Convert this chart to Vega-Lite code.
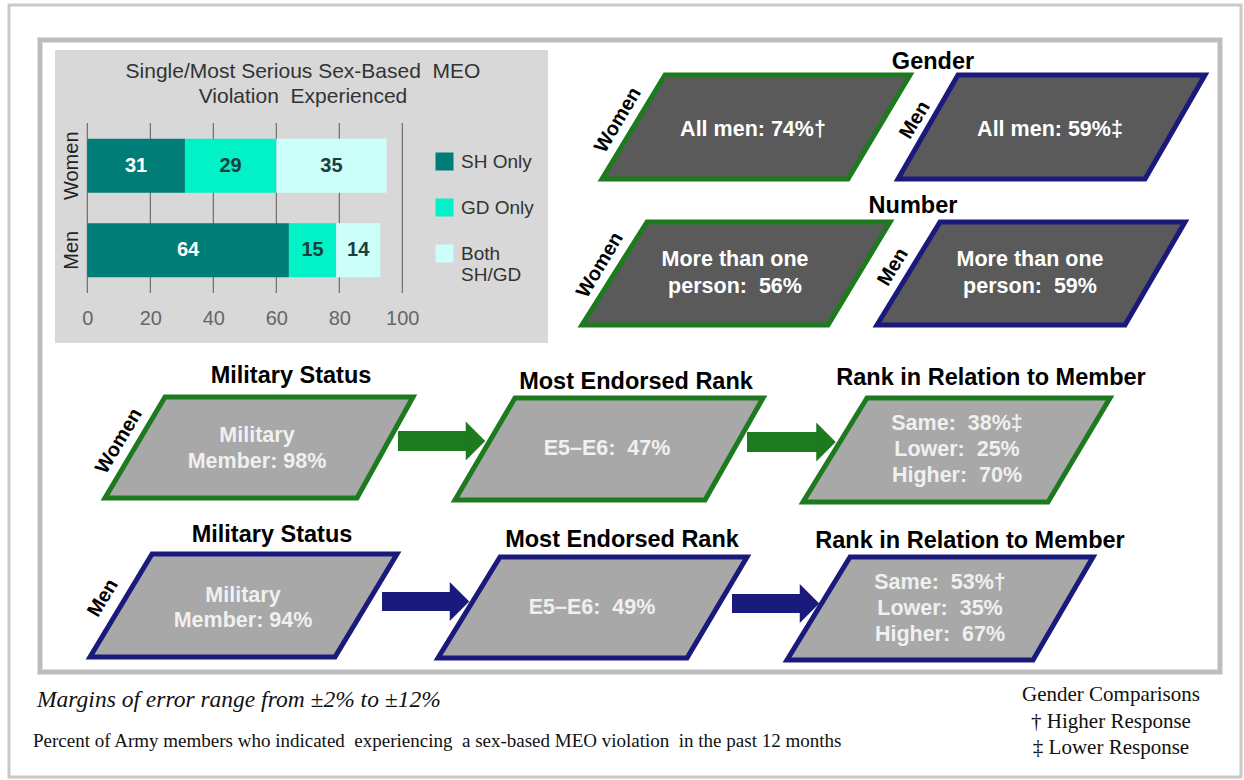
{
  "$schema": "https://vega.github.io/schema/vega-lite/v6.json",
  "width": 1244,
  "height": 780,
  "padding": 0,
  "autosize": {"type": "none"},
  "background": "white",
  "config": {"view": {"stroke": null}, "font": "Liberation Sans"},
  "layer": [
    {
      "encoding": {
        "x": {"field": "x", "type": "quantitative", "scale": {"domain": [0, 1244], "nice": false, "zero": false}, "axis": null},
        "y": {"field": "y", "type": "quantitative", "scale": {"domain": [780, 0], "nice": false, "zero": false}, "axis": null}
      },
      "layer": [
        {
          "data": {"values": [{"x": 9, "x2": 1241, "y": 5, "y2": 777}]},
          "mark": {"type": "rect", "filled": false, "stroke": "#c9c9c9", "strokeWidth": 3},
          "encoding": {"x2": {"field": "x2"}, "y2": {"field": "y2"}}
        },
        {
          "data": {"values": [{"x": 40, "x2": 1220, "y": 40, "y2": 672}]},
          "mark": {"type": "rect", "filled": false, "stroke": "#bdbdbd", "strokeWidth": 5},
          "encoding": {"x2": {"field": "x2"}, "y2": {"field": "y2"}}
        },
        {
          "data": {"values": [{"x": 55, "x2": 548, "y": 50, "y2": 343}]},
          "mark": {"type": "rect", "fill": "#d8d8d8"},
          "encoding": {"x2": {"field": "x2"}, "y2": {"field": "y2"}}
        },
        {
          "data": {"values": [
            {"x": 303, "y": 72, "t": "Single/Most Serious Sex-Based\u00a0 MEO"},
            {"x": 303, "y": 97, "t": "Violation\u00a0 Experienced"}
          ]},
          "mark": {"type": "text", "font": "Liberation Sans", "fontSize": 21, "color": "#333333", "align": "center", "baseline": "middle"},
          "encoding": {"text": {"field": "t"}}
        },
        {
          "data": {"values": [
            {"id": "GW", "gender": "Women", "tone": "dark", "y": 75, "x": 665, "x2": 910},
            {"id": "GW", "gender": "Women", "tone": "dark", "y": 179, "x": 602, "x2": 848},
            {"id": "GM", "gender": "Men", "tone": "dark", "y": 75, "x": 958, "x2": 1205},
            {"id": "GM", "gender": "Men", "tone": "dark", "y": 179, "x": 898, "x2": 1145},
            {"id": "NW", "gender": "Women", "tone": "dark", "y": 222, "x": 647, "x2": 890},
            {"id": "NW", "gender": "Women", "tone": "dark", "y": 325, "x": 582, "x2": 828},
            {"id": "NM", "gender": "Men", "tone": "dark", "y": 222, "x": 940, "x2": 1185},
            {"id": "NM", "gender": "Men", "tone": "dark", "y": 325, "x": 877, "x2": 1125},
            {"id": "MSW", "gender": "Women", "tone": "light", "y": 397, "x": 165, "x2": 413},
            {"id": "MSW", "gender": "Women", "tone": "light", "y": 498, "x": 105, "x2": 357},
            {"id": "ERW", "gender": "Women", "tone": "light", "y": 398, "x": 515, "x2": 763},
            {"id": "ERW", "gender": "Women", "tone": "light", "y": 500, "x": 455, "x2": 705},
            {"id": "RRW", "gender": "Women", "tone": "light", "y": 398, "x": 867, "x2": 1110},
            {"id": "RRW", "gender": "Women", "tone": "light", "y": 502, "x": 803, "x2": 1048},
            {"id": "MSM", "gender": "Men", "tone": "light", "y": 554, "x": 152, "x2": 397},
            {"id": "MSM", "gender": "Men", "tone": "light", "y": 657, "x": 90, "x2": 335},
            {"id": "ERM", "gender": "Men", "tone": "light", "y": 557, "x": 500, "x2": 747},
            {"id": "ERM", "gender": "Men", "tone": "light", "y": 658, "x": 438, "x2": 687},
            {"id": "RRM", "gender": "Men", "tone": "light", "y": 557, "x": 850, "x2": 1093},
            {"id": "RRM", "gender": "Men", "tone": "light", "y": 660, "x": 787, "x2": 1033}
          ]},
          "mark": {"type": "area", "orient": "horizontal", "strokeWidth": 5, "strokeJoin": "miter", "opacity": 1, "fillOpacity": 1},
          "encoding": {
            "x2": {"field": "x2"},
            "detail": {"field": "id", "type": "nominal"},
            "fill": {"field": "tone", "type": "nominal", "scale": {"domain": ["dark", "light"], "range": ["#5a5a5a", "#a8a8a8"]}, "legend": null},
            "stroke": {"field": "gender", "type": "nominal", "scale": {"domain": ["Women", "Men"], "range": ["#1e7a1e", "#1a1a7c"]}, "legend": null}
          }
        },
        {
          "data": {"values": [
            {"gender": "Women", "x": 398, "x2": 467, "y": 431, "y2": 451},
            {"gender": "Women", "x": 747, "x2": 818, "y": 432, "y2": 452},
            {"gender": "Men", "x": 382, "x2": 452, "y": 592, "y2": 611},
            {"gender": "Men", "x": 732, "x2": 802, "y": 594, "y2": 613}
          ]},
          "mark": {"type": "rect"},
          "encoding": {
            "x2": {"field": "x2"}, "y2": {"field": "y2"},
            "color": {"field": "gender", "type": "nominal", "scale": {"domain": ["Women", "Men"], "range": ["#1e7a1e", "#1a1a7c"]}, "legend": null}
          }
        },
        {
          "data": {"values": [
            {"gender": "Women", "x": 475.5, "y": 441},
            {"gender": "Women", "x": 826, "y": 442},
            {"gender": "Men", "x": 459.5, "y": 601.5},
            {"gender": "Men", "x": 809.5, "y": 603.5}
          ]},
          "mark": {"type": "point", "shape": "M-0.5,-1L0.5,0L-0.5,1Z", "size": 1521, "filled": true, "opacity": 1},
          "encoding": {
            "color": {"field": "gender", "type": "nominal", "scale": {"domain": ["Women", "Men"], "range": ["#1e7a1e", "#1a1a7c"]}, "legend": null}
          }
        },
        {
          "data": {"values": [
            {"x": 933, "y": 62, "t": "Gender"},
            {"x": 913, "y": 206, "t": "Number"},
            {"x": 291, "y": 376, "t": "Military Status"},
            {"x": 636, "y": 382, "t": "Most Endorsed Rank"},
            {"x": 991, "y": 378, "t": "Rank in Relation to Member"},
            {"x": 272, "y": 535, "t": "Military Status"},
            {"x": 622, "y": 540, "t": "Most Endorsed Rank"},
            {"x": 970, "y": 541, "t": "Rank in Relation to Member"}
          ]},
          "mark": {"type": "text", "font": "Liberation Sans", "fontSize": 23.5, "fontWeight": "bold", "color": "#000000", "align": "center", "baseline": "middle"},
          "encoding": {"text": {"field": "t"}}
        },
        {
          "data": {"values": [
            {"x": 753, "y": 130, "t": "All men: 74%†"},
            {"x": 1050, "y": 130, "t": "All men: 59%‡"},
            {"x": 735, "y": 260, "t": "More than one"},
            {"x": 735, "y": 287, "t": "person:\u00a0 56%"},
            {"x": 1030, "y": 260, "t": "More than one"},
            {"x": 1030, "y": 287, "t": "person:\u00a0 59%"}
          ]},
          "mark": {"type": "text", "font": "Liberation Sans", "fontSize": 21.5, "fontWeight": "bold", "color": "#ffffff", "align": "center", "baseline": "middle"},
          "encoding": {"text": {"field": "t"}}
        },
        {
          "data": {"values": [
            {"x": 257, "y": 436, "t": "Military"},
            {"x": 257, "y": 462, "t": "Member: 98%"},
            {"x": 607, "y": 449, "t": "E5–E6:\u00a0 47%"},
            {"x": 957, "y": 424, "t": "Same:\u00a0 38%‡"},
            {"x": 957, "y": 450, "t": "Lower:\u00a0 25%"},
            {"x": 957, "y": 476, "t": "Higher:\u00a0 70%"},
            {"x": 243, "y": 596, "t": "Military"},
            {"x": 243, "y": 621, "t": "Member: 94%"},
            {"x": 592, "y": 608, "t": "E5–E6:\u00a0 49%"},
            {"x": 940, "y": 583, "t": "Same:\u00a0 53%†"},
            {"x": 940, "y": 609, "t": "Lower:\u00a0 35%"},
            {"x": 940, "y": 635, "t": "Higher:\u00a0 67%"}
          ]},
          "mark": {"type": "text", "font": "Liberation Sans", "fontSize": 21.5, "fontWeight": "bold", "color": "#f0f0f0", "align": "center", "baseline": "middle"},
          "encoding": {"text": {"field": "t"}}
        },
        {
          "data": {"values": [
            {"x": 618, "y": 120, "t": "Women"},
            {"x": 915, "y": 120, "t": "Men"},
            {"x": 600, "y": 265, "t": "Women"},
            {"x": 893, "y": 267, "t": "Men"},
            {"x": 119, "y": 441, "t": "Women"},
            {"x": 103, "y": 598, "t": "Men"}
          ]},
          "mark": {"type": "text", "font": "Liberation Sans", "fontSize": 20, "fontWeight": "bold", "color": "#000000", "align": "center", "baseline": "middle", "angle": 301},
          "encoding": {"text": {"field": "t"}}
        },
        {
          "data": {"values": [
            {"x": 37, "y": 700, "t": "Margins of error range from ±2% to ±12%"}
          ]},
          "mark": {"type": "text", "font": "Liberation Serif", "fontSize": 23.5, "fontStyle": "italic", "color": "#111111", "align": "left", "baseline": "middle"},
          "encoding": {"text": {"field": "t"}}
        },
        {
          "data": {"values": [
            {"x": 33, "y": 741, "t": "Percent of Army members who indicated\u00a0 experiencing\u00a0 a sex-based MEO violation\u00a0 in the past 12 months"}
          ]},
          "mark": {"type": "text", "font": "Liberation Serif", "fontSize": 19, "color": "#111111", "align": "left", "baseline": "middle"},
          "encoding": {"text": {"field": "t"}}
        },
        {
          "data": {"values": [
            {"x": 1111, "y": 695, "t": "Gender Comparisons"},
            {"x": 1111, "y": 722, "t": "†  Higher Response"},
            {"x": 1111, "y": 748, "t": "‡  Lower Response"}
          ]},
          "mark": {"type": "text", "font": "Liberation Serif", "fontSize": 21, "color": "#111111", "align": "center", "baseline": "middle"},
          "encoding": {"text": {"field": "t"}}
        }
      ]
    },
    {
      "layer": [
        {
          "data": {"values": [{"tick": 0}, {"tick": 20}, {"tick": 40}, {"tick": 60}, {"tick": 80}, {"tick": 100}]},
          "mark": {"type": "rule", "color": "#5a5a5a", "strokeWidth": 1},
          "encoding": {
            "x": {
              "field": "tick", "type": "quantitative",
              "scale": {"domain": [0, 100], "range": [87.3, 402.3], "nice": false, "zero": false},
              "axis": {"orient": "bottom", "offset": -487, "zindex": 1, "values": [0, 20, 40, 60, 80, 100], "grid": false, "domain": false, "ticks": false, "tickSize": 0, "labelFlush": false, "labelPadding": 15, "labelFontSize": 20, "labelFont": "Liberation Sans", "labelColor": "#666666", "title": null}
            },
            "y": {"datum": 0, "type": "quantitative", "scale": {"domain": [0, 1], "range": [123, 293]}, "axis": null},
            "y2": {"datum": 1}
          }
        },
        {
          "data": {"values": [
            {"gender": "Women", "cat": "SH Only", "order": 1, "pct": 31},
            {"gender": "Women", "cat": "GD Only", "order": 2, "pct": 29},
            {"gender": "Women", "cat": "Both SH/GD", "order": 3, "pct": 35},
            {"gender": "Men", "cat": "SH Only", "order": 1, "pct": 64},
            {"gender": "Men", "cat": "GD Only", "order": 2, "pct": 15},
            {"gender": "Men", "cat": "Both SH/GD", "order": 3, "pct": 14}
          ]},
          "transform": [
            {"stack": "pct", "groupby": ["gender"], "sort": [{"field": "order", "order": "ascending"}], "as": ["x0", "x1"]},
            {"calculate": "(datum.x0 + datum.x1) / 2", "as": "mid"}
          ],
          "encoding": {
            "y": {
              "field": "gender", "type": "nominal",
              "scale": {"domain": ["Women", "Men"], "range": [123, 293], "paddingInner": 0.36, "paddingOuter": 0.186},
              "axis": {"orient": "left", "offset": -87.3, "zindex": 1, "domain": false, "ticks": false, "tickSize": 0, "labelAngle": -90, "labelPadding": 6, "labelFontSize": 20, "labelFont": "Liberation Sans", "labelColor": "#222222", "title": null}
            }
          },
          "layer": [
            {
              "mark": {"type": "bar"},
              "encoding": {
                "x": {"field": "x0", "type": "quantitative"},
                "x2": {"field": "x1"},
                "color": {
                  "field": "cat", "type": "nominal",
                  "scale": {"domain": ["SH Only", "GD Only", "Both SH/GD"], "range": ["#007d77", "#00f2c6", "#cdfffa"]},
                  "legend": {
                    "orient": "none", "legendX": 435, "legendY": 152, "title": null, "padding": 0, "zindex": 1,
                    "symbolType": "square", "symbolSize": 324, "symbolStrokeWidth": 0, "symbolOpacity": 1,
                    "labelFontSize": 19, "labelFont": "Liberation Sans", "labelColor": "#333333", "labelOffset": 7,
                    "rowPadding": 26, "labelLimit": 200,
                    "labelExpr": "datum.label == 'Both SH/GD' ? ['Both', 'SH/GD'] : datum.label"
                  }
                }
              }
            },
            {
              "mark": {"type": "text", "font": "Liberation Sans", "fontSize": 20, "fontWeight": "bold", "align": "center", "baseline": "middle"},
              "encoding": {
                "x": {"field": "mid", "type": "quantitative"},
                "text": {"field": "pct", "type": "quantitative"},
                "color": {"condition": {"test": "datum.cat === 'SH Only'", "value": "#ffffff"}, "value": "#1e3d3d"}
              }
            }
          ]
        }
      ],
      "resolve": {"scale": {"y": "independent"}}
    }
  ],
  "resolve": {"scale": {"x": "independent", "y": "independent", "color": "independent"}}
}
